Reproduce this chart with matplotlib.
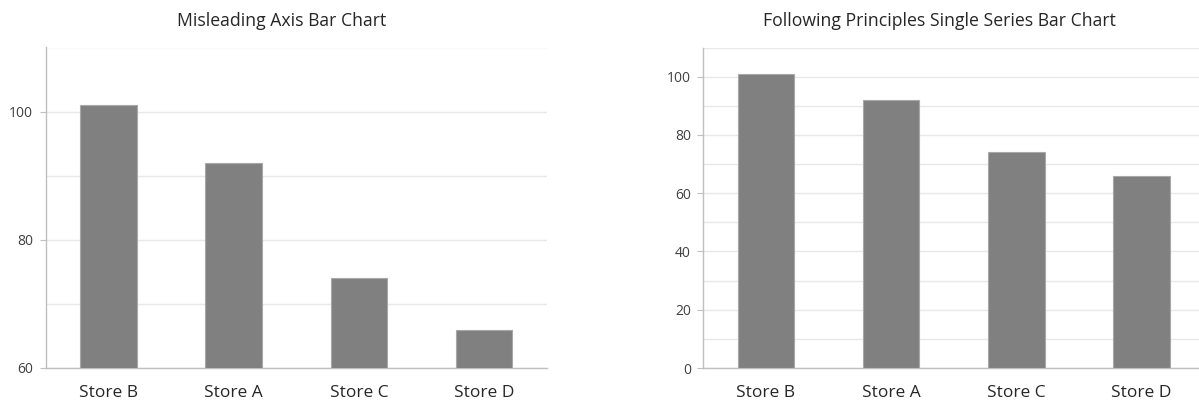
import matplotlib
matplotlib.use("Agg")
import matplotlib.pyplot as plt
from matplotlib.ticker import MultipleLocator

stores = ["Store B", "Store A", "Store C", "Store D"]
sales = [101, 92, 74, 66]

left_title = "Misleading Axis Bar Chart"
right_title = "Following Principles Single Series Bar Chart"
left_ylim = (60, 110)
right_ylim = (0, 110)

plt.rcParams['font.family'] = ['Open Sans', 'DejaVu Sans']

W, H = 1199, 400
fig = plt.figure(figsize=(W / 100, H / 100), dpi=100)
fig.patch.set_facecolor('white')

bar_color = '#808080'
edge_color = '#a8a8a8'
grid_color = '#e8e8e8'
spine_color = '#bfbfbf'
text_color = '#262626'
tick_color = '#404040'


def make_axes(rect, ylim, major, title, title_x):
    ax = fig.add_axes(rect)
    x = list(range(len(stores)))
    ax.bar(x, sales, width=0.45, color=bar_color, edgecolor=edge_color,
           linewidth=0.8, zorder=3)
    ax.set_xlim(-0.5, len(stores) - 0.5)
    ax.set_ylim(*ylim)
    ax.set_xticks(x)
    ax.set_xticklabels(stores, fontsize=12.5, color=text_color)
    ax.yaxis.set_major_locator(MultipleLocator(major))
    ax.yaxis.set_minor_locator(MultipleLocator(major / 2))
    ax.tick_params(axis='x', length=0, pad=12)
    ax.tick_params(axis='y', which='major', length=4, width=0.8,
                   color=spine_color, labelsize=10, labelcolor=tick_color, pad=5)
    ax.tick_params(axis='y', which='minor', length=0)
    ax.grid(True, axis='y', which='both', color=grid_color, linewidth=1.0, zorder=0)
    ax.set_axisbelow(True)
    for s in ['top', 'right']:
        ax.spines[s].set_visible(False)
    for s in ['left', 'bottom']:
        ax.spines[s].set_color(spine_color)
        ax.spines[s].set_linewidth(1.0)
    fig.text(title_x / W, (H - 26) / H, title, ha='center', va='baseline',
             fontsize=12.7, color=text_color)
    return ax


bottom = (H - 368) / H
height = (368 - 47.5) / H
make_axes([45.7 / W, bottom, 501 / W, height], left_ylim, 20, left_title, 281.7)
make_axes([703.3 / W, bottom, 501 / W, height], right_ylim, 20, right_title, 939)

fig.savefig('out.png', dpi=100, facecolor='white')
